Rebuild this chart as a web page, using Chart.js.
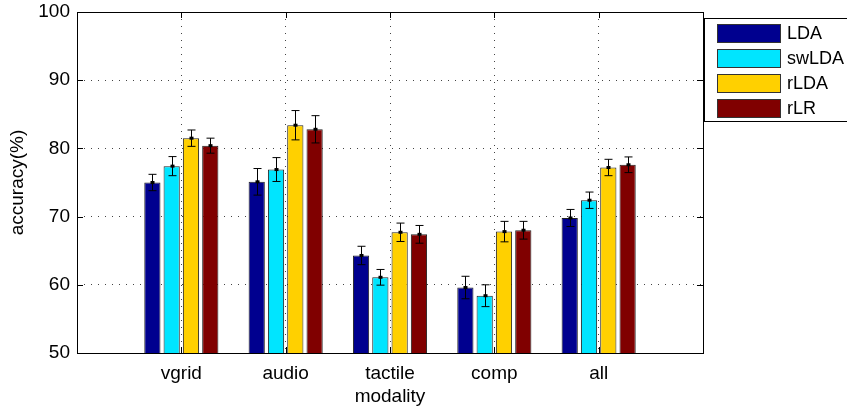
<!DOCTYPE html>
<html>
<head>
<meta charset="utf-8">
<script src="https://cdn.jsdelivr.net/npm/chart.js@4"></script>
<style>
  body { margin: 0; background: #fff; }
  #wrap { width: 847px; height: 408px; }
</style>
</head>
<body>
<div id="wrap"><canvas id="my-chart" width="847" height="408"></canvas></div>
<script>
// empty slots at both ends so the categories sit at 1..5 on a 0..6 axis
const modalities = ["", "vgrid", "audio", "tactile", "comp", "all", ""];
const methods = ["LDA", "swLDA", "rLDA", "rLR"];
const colors = ["#00008f", "#00e5ff", "#ffd000", "#800000"];

const ldaMean = [null, 75.0, 75.1, 64.3, 59.6, 69.8, null];
const swldaMean = [null, 77.4, 76.9, 61.1, 58.4, 72.4, null];
const rldaMean = [null, 81.5, 83.4, 67.7, 67.8, 77.2, null];
const rlrMean = [null, 80.4, 82.8, 67.4, 68.0, 77.6, null];

const ldaErr = [0, 1.2, 1.95, 1.35, 1.65, 1.25, 0];
const swldaErr = [0, 1.4, 1.75, 1.15, 1.6, 1.2, 0];
const rldaErr = [0, 1.2, 2.15, 1.35, 1.5, 1.2, 0];
const rlrErr = [0, 1.1, 2.0, 1.3, 1.3, 1.15, 0];

const yTicks = [50, 60, 70, 80, 90, 100];

const means = [ldaMean, swldaMean, rldaMean, rlrMean];
const errs = [ldaErr, swldaErr, rldaErr, rlrErr];
const font = "Liberation Sans, Arial, Helvetica, sans-serif";

// error bars, box, inward ticks and legend
const extras = {
  id: "extras",
  afterDatasetsDraw(chart) {
    const ctx = chart.ctx;
    const y = chart.scales.y;
    ctx.save();
    ctx.strokeStyle = "#000";
    ctx.fillStyle = "#000";
    ctx.lineWidth = 1;
    chart.data.datasets.forEach((ds, d) => {
      const meta = chart.getDatasetMeta(d);
      meta.data.forEach((bar, i) => {
        const v = means[d][i];
        if (v === null) return;
        const e = errs[d][i];
        const x = Math.round(bar.x) + 0.5;
        const top = y.getPixelForValue(v + e);
        const bot = y.getPixelForValue(v - e);
        ctx.beginPath();
        ctx.moveTo(x, top); ctx.lineTo(x, bot);
        ctx.moveTo(x - 4, top); ctx.lineTo(x + 4, top);
        ctx.moveTo(x - 4, bot); ctx.lineTo(x + 4, bot);
        ctx.stroke();
        ctx.fillRect(x - 2, y.getPixelForValue(v) - 1.5, 4, 3);
      });
    });
    ctx.restore();
  },
  afterDraw(chart) {
    const ctx = chart.ctx;
    const a = chart.chartArea;
    const x = chart.scales.x;
    const y = chart.scales.y;
    ctx.save();
    ctx.strokeStyle = "#000";
    ctx.lineWidth = 1;
    ctx.strokeRect(Math.round(a.left) + 0.5, Math.round(a.top) + 0.5,
      Math.round(a.right - a.left), Math.round(a.bottom - a.top));
    ctx.beginPath();
    yTicks.forEach(t => {
      const py = Math.round(y.getPixelForValue(t)) + 0.5;
      ctx.moveTo(a.left, py); ctx.lineTo(a.left + 6, py);
      ctx.moveTo(a.right, py); ctx.lineTo(a.right - 6, py);
    });
    for (let i = 1; i <= 5; i++) {
      const px = Math.round(x.getPixelForValue(i)) + 0.5;
      ctx.moveTo(px, a.bottom); ctx.lineTo(px, a.bottom - 6);
      ctx.moveTo(px, a.top); ctx.lineTo(px, a.top + 6);
    }
    ctx.stroke();

    // legend
    const lx = 704, ly = 18;
    ctx.fillStyle = "#fff";
    ctx.fillRect(lx, ly, 160, 103);
    ctx.strokeRect(lx + 0.5, ly + 0.5, 160, 103);
    ctx.font = "18px " + font;
    ctx.textBaseline = "middle";
    methods.forEach((m, i) => {
      const sy = 24 + i * 25;
      ctx.fillStyle = colors[i];
      ctx.fillRect(717, sy, 63, 18);
      ctx.strokeStyle = "#333";
      ctx.strokeRect(717.5, sy + 0.5, 63, 18);
      ctx.fillStyle = "#000";
      ctx.fillText(m, 787, sy + 10);
    });
    ctx.restore();
  }
};

const datasets = methods.map((m, i) => ({
  label: m,
  data: means[i],
  backgroundColor: colors[i],
  borderColor: "#222",
  borderWidth: 1,
  borderSkipped: false,
  categoryPercentage: 0.74,
  barPercentage: 0.84
}));

new Chart(document.getElementById("my-chart"), {
  type: "bar",
  data: { labels: modalities, datasets: datasets },
  plugins: [extras],
  options: {
    responsive: false,
    animation: false,
    layout: { padding: { top: 12, right: 144, left: 0, bottom: 0 } },
    plugins: { legend: { display: false }, tooltip: { enabled: false } },
    scales: {
      x: {
        offset: false,
        grid: {
          offset: false,
          drawTicks: false,
          color: c => (c.index === 0 || c.index === 6) ? "rgba(0,0,0,0)" : "#444",
          lineWidth: 1
        },
        border: { display: false, dash: [1, 6] },
        ticks: { color: "#000", font: { family: font, size: 19 }, padding: 9, maxRotation: 0, autoSkip: false },
        title: { display: true, text: "modality", color: "#000", font: { family: font, size: 19 }, padding: { top: -3, bottom: 0 } },
        afterFit: s => { s.height = 55; }
      },
      y: {
        min: 50,
        max: 100,
        afterBuildTicks: s => { s.ticks = yTicks.map(v => ({ value: v })); },
        grid: {
          drawTicks: false,
          color: c => (c.tick && (c.tick.value === 50 || c.tick.value === 100)) ? "rgba(0,0,0,0)" : "#444",
          lineWidth: 1
        },
        border: { display: false, dash: [1, 6] },
        ticks: { color: "#000", font: { family: font, size: 19, lineHeight: 0.5 }, padding: 7 },
        title: { display: true, text: "accuracy(%)", color: "#000", font: { family: font, size: 19 }, padding: { top: 6, bottom: 0 } },
        afterFit: s => { s.width = 77; }
      }
    }
  }
});
</script>
</body>
</html>
